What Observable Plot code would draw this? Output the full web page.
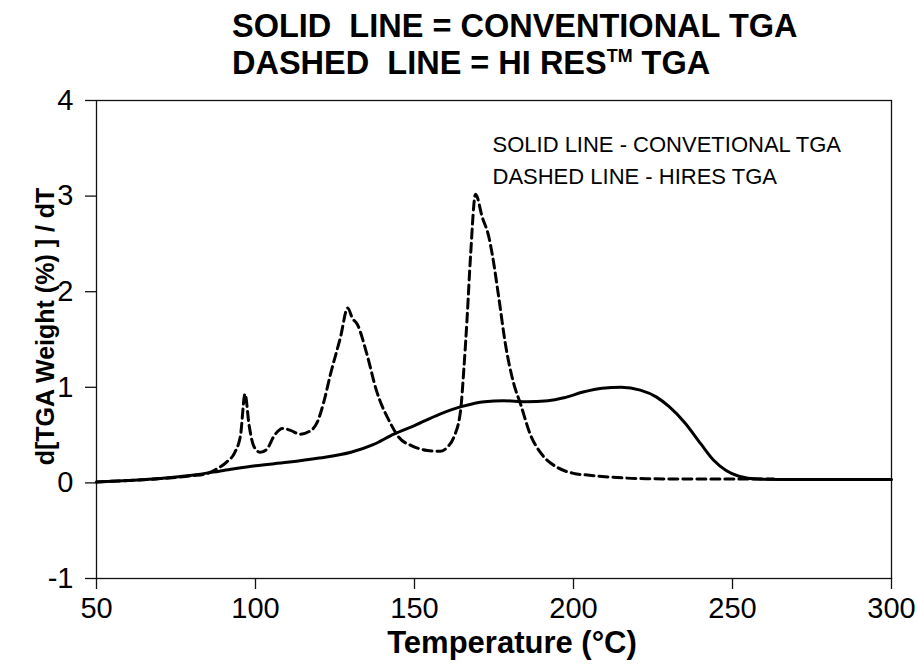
<!DOCTYPE html>
<html>
<head>
<meta charset="utf-8">
<script src="https://cdn.jsdelivr.net/npm/d3@7"></script>
<script src="https://cdn.jsdelivr.net/npm/@observablehq/plot@0.6"></script>
<style>
  html, body { margin: 0; padding: 0; background: #fff; }
  #wrap { width: 917px; height: 668px; position: relative; overflow: hidden; font-family: "Liberation Sans", Arial, sans-serif; }
  #title { height: 88px; padding-left: 232px; box-sizing: border-box; padding-top: 8px;
           font-weight: bold; font-size: 32.5px; line-height: 37px; white-space: pre; color: #000; }
  #title sup { font-size: 0.55em; vertical-align: 0.7em; line-height: 0; }
  svg { display: block; }
</style>
</head>
<body>
<div id="wrap">
  <div id="title"><div>SOLID  LINE = CONVENTIONAL TGA</div><div>DASHED  LINE = HI RES<sup>TM</sup> TGA</div></div>
  <div id="chart"></div>
</div>
<script>
// ---- data ----
const xTicks = [50, 100, 150, 200, 250, 300];
const yTicks = [-1, 0, 1, 2, 3, 4];
const xLabel = "Temperature (°C)";
const yLabel = "d[TGA Weight (%) ] / dT";
const legendLines = ["SOLID LINE - CONVETIONAL TGA", "DASHED LINE - HIRES TGA"];

// Conventional TGA (solid)
const solidT = [50, 60, 70, 80, 90, 100, 110, 120, 130, 137, 143.5, 150, 158, 165, 172, 178, 185, 192, 197, 203, 209, 215, 221, 226, 230, 235, 240, 244, 248, 252, 258, 270, 300];
const solidV = [0.01, 0.025, 0.045, 0.08, 0.13, 0.18, 0.215, 0.26, 0.32, 0.40, 0.51, 0.60, 0.72, 0.80, 0.85, 0.86, 0.85, 0.86, 0.89, 0.95, 0.99, 1.00, 0.97, 0.90, 0.80, 0.63, 0.41, 0.24, 0.13, 0.07, 0.04, 0.035, 0.035];

// Hi-Res TGA (dashed)
const dashT = [50, 60, 70, 80, 85, 88, 91, 93.5, 95.3, 96.7, 98, 99.5, 101.5, 103.5, 106, 108.5, 111, 114, 117, 119.5, 121.5, 123.6, 126.7, 129, 130.5, 132, 135, 138, 142.5, 145, 149, 154, 158, 160.5, 162.4, 164.5, 165.5, 166.5, 167.6, 169.2, 171.3, 173.4, 174.4, 176.5, 178.6, 181.2, 183.3, 186.5, 190, 195, 200, 205, 212, 221, 240, 263];
const dashV = [0.01, 0.025, 0.045, 0.075, 0.10, 0.15, 0.22, 0.32, 0.50, 0.93, 0.60, 0.38, 0.32, 0.35, 0.50, 0.57, 0.55, 0.51, 0.54, 0.64, 0.85, 1.14, 1.52, 1.83, 1.72, 1.66, 1.35, 0.97, 0.62, 0.48, 0.39, 0.34, 0.33, 0.38, 0.48, 0.76, 1.18, 1.70, 2.36, 3.02, 2.78, 2.57, 2.40, 1.94, 1.45, 1.04, 0.83, 0.50, 0.30, 0.16, 0.10, 0.08, 0.06, 0.045, 0.04, 0.04];

const solid = solidT.map((t, i) => ({t, v: solidV[i]}));
const dashed = dashT.map((t, i) => ({t, v: dashV[i]}));

const font = "Liberation Sans, Arial, sans-serif";

const chart = Plot.plot({
  width: 917,
  height: 580,
  marginTop: 12,
  marginLeft: 96,
  marginRight: 26,
  marginBottom: 90,
  style: {fontFamily: font, background: "#fff", color: "#000", overflow: "visible"},
  x: {domain: [50, 300]},
  y: {domain: [-1, 4]},
  marks: [
    Plot.frame({stroke: "#111", strokeWidth: 1.3}),
    Plot.axisX({ticks: xTicks, tickFormat: d => String(d), tickSize: 11, tickPadding: 8, fontSize: 29, label: null, stroke: "#111", strokeWidth: 1.3}),
    Plot.axisY({ticks: yTicks, tickFormat: d => String(d), tickSize: 11, tickPadding: 12, fontSize: 29, label: null, stroke: "#111", strokeWidth: 1.3}),
    Plot.line(solid, {x: "t", y: "v", stroke: "#000", strokeWidth: 3, curve: "monotone-x"}),
    Plot.line(dashed, {x: "t", y: "v", stroke: "#000", strokeWidth: 3, strokeDasharray: "9,5", curve: "monotone-x"}),
    Plot.text([xLabel], {text: d => d, frameAnchor: "bottom", dx: 18, dy: 65, textAnchor: "middle", lineAnchor: "middle", fontSize: 31, fontWeight: "bold", fill: "#000"}),
    Plot.text([yLabel], {text: d => d, frameAnchor: "left", dx: -51, dy: -13, rotate: -90, textAnchor: "middle", lineAnchor: "middle", fontSize: 25, fontWeight: "bold", fill: "#000"}),
    Plot.text([legendLines[0]], {text: d => d, frameAnchor: "top-left", dx: 396, dy: 44, lineAnchor: "middle", textAnchor: "start", fontSize: 22, fill: "#000"}),
    Plot.text([legendLines[1]], {text: d => d, frameAnchor: "top-left", dx: 396, dy: 76, lineAnchor: "middle", textAnchor: "start", fontSize: 22, fill: "#000"})
  ]
});
document.getElementById("chart").appendChild(chart);
</script>
</body>
</html>
